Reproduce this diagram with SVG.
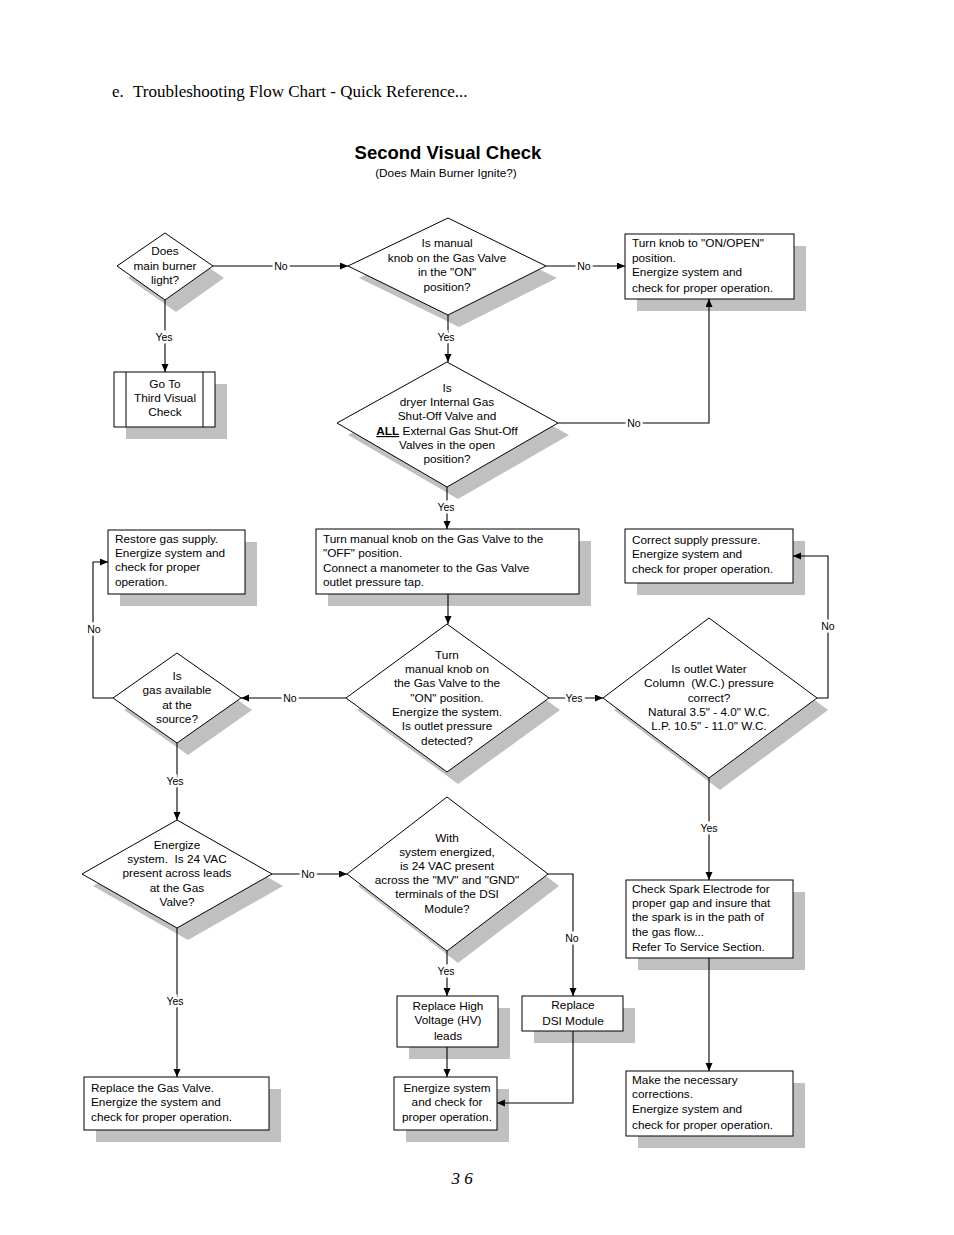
<svg xmlns="http://www.w3.org/2000/svg" width="954" height="1235" viewBox="0 0 954 1235">
<style>
.t{font-family:"Liberation Sans",Arial,sans-serif;font-size:11.8px;fill:#000;white-space:pre}
.c{text-anchor:middle}
.lbl{font-family:"Liberation Sans",Arial,sans-serif;font-size:10.5px;fill:#000;text-anchor:middle;stroke:#fff;stroke-width:5;paint-order:stroke}
.sh{fill:#c0c0c0;stroke:none}
.n{fill:#fff;stroke:#000;stroke-width:1}
.ln{fill:none;stroke:#000;stroke-width:1.1;marker-end:url(#ah)}
</style>
<defs>
<marker id="ah" markerUnits="userSpaceOnUse" markerWidth="9" markerHeight="8" refX="8" refY="3.5" orient="auto">
<path d="M0,0 L8,3.5 L0,7 z" fill="#000"/>
</marker>
</defs>
<rect width="954" height="1235" fill="#fff"/>
<g id="header">
<text x="112" y="97" style="font-family:'Liberation Serif','Times New Roman',serif;font-size:17px">e.</text>
<text x="133" y="97" style="font-family:'Liberation Serif','Times New Roman',serif;font-size:17px">Troubleshooting Flow Chart - Quick Reference...</text>
<text x="448" y="159" text-anchor="middle" style="font-family:'Liberation Sans',Arial,sans-serif;font-size:18.5px;font-weight:bold">Second Visual Check</text>
<text x="446" y="177" class="t c">(Does Main Burner Ignite?)</text>
<text x="462" y="1184" text-anchor="middle" style="font-family:'Liberation Serif','Times New Roman',serif;font-size:17px;font-style:italic">3 6</text>
</g>

<g id="D1">
<polygon class="sh" points="128,278 176,245 224,278 176,312"/>
<polygon class="n" points="117,266 165,233 213,266 165,300"/>
<text class="t c" x="165" y="255">Does</text>
<text class="t c" x="165" y="270">main burner</text>
<text class="t c" x="165" y="284">light?</text>
</g>

<g id="D2">
<polygon class="sh" points="359,278 459,230 557,278 459,327"/>
<polygon class="n" points="348,266 448,218 546,266 448,315"/>
<text class="t c" x="447" y="247">Is manual</text>
<text class="t c" x="447" y="262">knob on the Gas Valve</text>
<text class="t c" x="447" y="276">in the "ON"</text>
<text class="t c" x="447" y="291">position?</text>
</g>

<g id="B1">
<rect class="sh" x="637" y="246" width="169" height="65"/>
<rect class="n" x="625" y="234" width="169" height="65"/>
<text class="t" x="632" y="247">Turn knob to "ON/OPEN"</text>
<text class="t" x="632" y="262">position.</text>
<text class="t" x="632" y="276">Energize system and</text>
<text class="t" x="632" y="292">check for proper operation.</text>
</g>

<g id="B0">
<rect class="sh" x="126" y="384" width="101" height="55"/>
<rect class="n" x="114" y="372" width="101" height="55"/>
<line x1="126" y1="372" x2="126" y2="427" stroke="#000" stroke-width="1"/>
<line x1="203" y1="372" x2="203" y2="427" stroke="#000" stroke-width="1"/>
<text class="t c" x="165" y="388">Go To</text>
<text class="t c" x="165" y="402">Third Visual</text>
<text class="t c" x="165" y="416">Check</text>
</g>

<g id="D3">
<polygon class="sh" points="348,435 458,374 569,435 458,499"/>
<polygon class="n" points="337,423 447,362 558,423 447,487"/>
<text class="t c" x="447" y="392">Is</text>
<text class="t c" x="447" y="406">dryer Internal Gas</text>
<text class="t c" x="447" y="420">Shut-Off Valve and</text>
<text class="t c" x="447" y="435"><tspan font-weight="bold" text-decoration="underline">ALL</tspan> External Gas Shut-Off</text>
<text class="t c" x="447" y="449">Valves in the open</text>
<text class="t c" x="447" y="463">position?</text>
</g>

<g id="B2">
<rect class="sh" x="328" y="541" width="263" height="65"/>
<rect class="n" x="316" y="529" width="263" height="65"/>
<text class="t" x="323" y="543">Turn manual knob on the Gas Valve to the</text>
<text class="t" x="323" y="557">"OFF" position.</text>
<text class="t" x="323" y="572">Connect a manometer to the Gas Valve</text>
<text class="t" x="323" y="586">outlet pressure tap.</text>
</g>

<g id="B3">
<rect class="sh" x="120" y="542" width="137" height="64"/>
<rect class="n" x="108" y="530" width="137" height="64"/>
<text class="t" x="115" y="543">Restore gas supply.</text>
<text class="t" x="115" y="557">Energize system and</text>
<text class="t" x="115" y="571">check for proper</text>
<text class="t" x="115" y="586">operation.</text>
</g>

<g id="B4">
<rect class="sh" x="637" y="541" width="168" height="54"/>
<rect class="n" x="625" y="529" width="168" height="54"/>
<text class="t" x="632" y="544">Correct supply pressure.</text>
<text class="t" x="632" y="558">Energize system and</text>
<text class="t" x="632" y="573">check for proper operation.</text>
</g>

<g id="D4">
<polygon class="sh" points="357,710 458,636 560,710 458,784"/>
<polygon class="n" points="346,698 447,624 549,698 447,772"/>
<text class="t c" x="447" y="659">Turn</text>
<text class="t c" x="447" y="673">manual knob on</text>
<text class="t c" x="447" y="687">the Gas Valve to the</text>
<text class="t c" x="447" y="702">"ON" position.</text>
<text class="t c" x="447" y="716">Energize the system.</text>
<text class="t c" x="447" y="730">Is outlet pressure</text>
<text class="t c" x="447" y="745">detected?</text>
</g>

<g id="D5">
<polygon class="sh" points="124,710 188,665 252,710 188,755"/>
<polygon class="n" points="113,698 177,653 241,698 177,743"/>
<text class="t c" x="177" y="680">Is</text>
<text class="t c" x="177" y="694">gas available</text>
<text class="t c" x="177" y="709">at the</text>
<text class="t c" x="177" y="723">source?</text>
</g>

<g id="D6">
<polygon class="sh" points="614,710 720,630 828,710 720,790"/>
<polygon class="n" points="603,698 709,618 817,698 709,778"/>
<text class="t c" x="709" y="673">Is outlet Water</text>
<text class="t c" x="709" y="687">Column  (W.C.) pressure</text>
<text class="t c" x="709" y="702">correct?</text>
<text class="t c" x="709" y="716">Natural 3.5" - 4.0" W.C.</text>
<text class="t c" x="709" y="730">L.P. 10.5" - 11.0" W.C.</text>
</g>

<g id="B5">
<rect class="sh" x="638" y="892" width="167" height="78"/>
<rect class="n" x="626" y="880" width="167" height="78"/>
<text class="t" x="632" y="893">Check Spark Electrode for</text>
<text class="t" x="632" y="907">proper gap and insure that</text>
<text class="t" x="632" y="921">the spark is in the path of</text>
<text class="t" x="632" y="936">the gas flow...</text>
<text class="t" x="632" y="951">Refer To Service Section.</text>
</g>

<g id="B6">
<rect class="sh" x="638" y="1083" width="167" height="65"/>
<rect class="n" x="626" y="1071" width="167" height="65"/>
<text class="t" x="632" y="1084">Make the necessary</text>
<text class="t" x="632" y="1098">corrections.</text>
<text class="t" x="632" y="1113">Energize system and</text>
<text class="t" x="632" y="1129">check for proper operation.</text>
</g>

<g id="D7">
<polygon class="sh" points="93,886 188,832 283,886 188,940"/>
<polygon class="n" points="82,874 177,820 272,874 177,928"/>
<text class="t c" x="177" y="849">Energize</text>
<text class="t c" x="177" y="863">system.  Is 24 VAC</text>
<text class="t c" x="177" y="877">present across leads</text>
<text class="t c" x="177" y="892">at the Gas</text>
<text class="t c" x="177" y="906">Valve?</text>
</g>

<g id="D8">
<polygon class="sh" points="358,886 458,809 559,886 458,963"/>
<polygon class="n" points="347,874 447,797 548,874 447,951"/>
<text class="t c" x="447" y="842">With</text>
<text class="t c" x="447" y="856">system energized,</text>
<text class="t c" x="447" y="870">is 24 VAC present</text>
<text class="t c" x="447" y="884">across the "MV" and "GND"</text>
<text class="t c" x="447" y="898">terminals of the DSI</text>
<text class="t c" x="447" y="913">Module?</text>
</g>

<g id="B7">
<rect class="sh" x="409" y="1008" width="101" height="51"/>
<rect class="n" x="397" y="996" width="101" height="51"/>
<text class="t c" x="448" y="1010">Replace High</text>
<text class="t c" x="448" y="1024">Voltage (HV)</text>
<text class="t c" x="448" y="1040">leads</text>
</g>

<g id="B8">
<rect class="sh" x="534" y="1008" width="101" height="35"/>
<rect class="n" x="522" y="996" width="101" height="35"/>
<text class="t c" x="573" y="1009">Replace</text>
<text class="t c" x="573" y="1025">DSI Module</text>
</g>

<g id="B9">
<rect class="sh" x="406" y="1089" width="103" height="53"/>
<rect class="n" x="394" y="1077" width="103" height="53"/>
<text class="t c" x="447" y="1092">Energize system</text>
<text class="t c" x="447" y="1106">and check for</text>
<text class="t c" x="447" y="1121">proper operation.</text>
</g>

<g id="B10">
<rect class="sh" x="96" y="1089" width="185" height="53"/>
<rect class="n" x="84" y="1077" width="185" height="53"/>
<text class="t" x="91" y="1092">Replace the Gas Valve.</text>
<text class="t" x="91" y="1106">Energize the system and</text>
<text class="t" x="91" y="1121">check for proper operation.</text>
</g>

<g id="connectors">
<path class="ln" d="M213,266 H348"/>
<text class="lbl" x="281" y="270">No</text>
<path class="ln" d="M546,266 H625"/>
<text class="lbl" x="584" y="270">No</text>
<path class="ln" d="M165,300 V372"/>
<text class="lbl" x="164" y="341">Yes</text>
<path class="ln" d="M448,315 V362"/>
<text class="lbl" x="446" y="341">Yes</text>
<path class="ln" d="M558,423 H709 V299"/>
<text class="lbl" x="634" y="427">No</text>
<path class="ln" d="M447,487 V529"/>
<text class="lbl" x="446" y="511">Yes</text>
<path class="ln" d="M448,594 V624"/>
<path class="ln" d="M346,698 H241"/>
<text class="lbl" x="290" y="702">No</text>
<path class="ln" d="M113,698 H93 V562 H108"/>
<text class="lbl" x="94" y="633">No</text>
<path class="ln" d="M549,698 H603"/>
<text class="lbl" x="574" y="702">Yes</text>
<path class="ln" d="M817,698 H828 V556 H793"/>
<text class="lbl" x="828" y="630">No</text>
<path class="ln" d="M709,778 V880"/>
<text class="lbl" x="709" y="832">Yes</text>
<path class="ln" d="M709,958 V1071"/>
<path class="ln" d="M177,743 V820"/>
<text class="lbl" x="175" y="785">Yes</text>
<path class="ln" d="M272,874 H347"/>
<text class="lbl" x="308" y="878">No</text>
<path class="ln" d="M548,874 H573 V996"/>
<text class="lbl" x="572" y="942">No</text>
<path class="ln" d="M447,951 V996"/>
<text class="lbl" x="446" y="975">Yes</text>
<path class="ln" d="M447,1047 V1077"/>
<path class="ln" d="M573,1031 V1103 H497"/>
<path class="ln" d="M177,928 V1077"/>
<text class="lbl" x="175" y="1005">Yes</text>
</g>
</svg>
